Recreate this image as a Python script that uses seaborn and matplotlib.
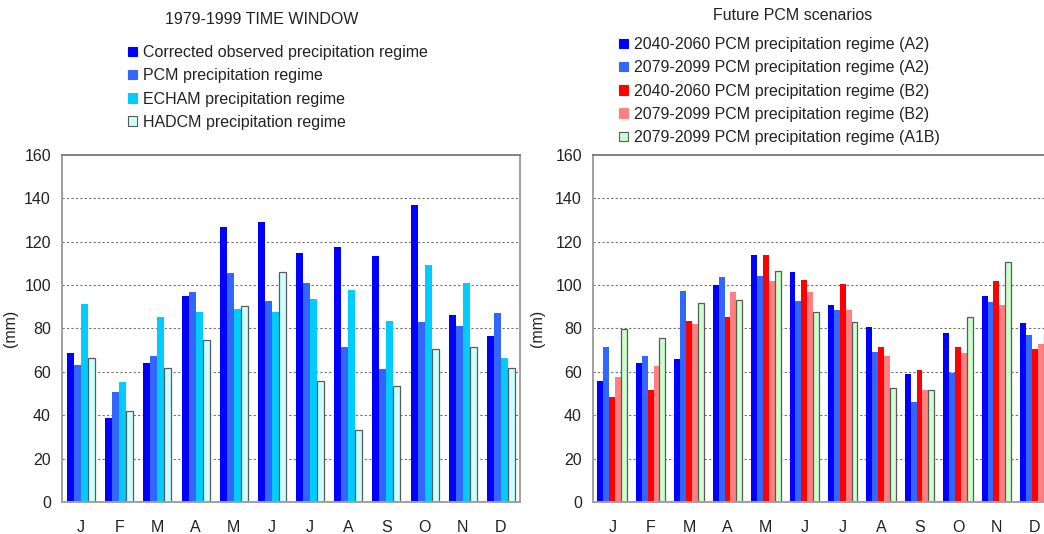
import matplotlib
matplotlib.use("Agg")
import matplotlib.pyplot as plt
from matplotlib.patches import Patch
from matplotlib.ticker import FixedLocator, MultipleLocator
import pandas as pd
import seaborn as sns

# Months and their axis letters
months = ["Jan", "Feb", "Mar", "Apr", "May", "Jun",
          "Jul", "Aug", "Sep", "Oct", "Nov", "Dec"]
month_letters = ["J", "F", "M", "A", "M", "J", "J", "A", "S", "O", "N", "D"]

# 1979-1999 monthly precipitation (mm)
observed = [68.6, 38.7, 64.0, 95.0, 127.0, 129.3, 115.0, 117.5, 113.5, 136.8, 86.0, 76.5]
pcm      = [63.0, 50.5, 67.4, 97.0, 105.4, 92.5, 101.2, 71.7, 61.3, 83.0, 81.0, 87.3]
echam    = [91.3, 55.4, 85.4, 87.5, 88.9, 87.5, 93.6, 97.6, 83.3, 109.2, 101.2, 66.3]
hadcm    = [66.3, 41.8, 61.7, 74.5, 90.5, 106.2, 55.7, 33.2, 53.3, 70.6, 71.4, 61.7]

# Future PCM scenarios (mm)
a2_2050  = [55.7, 64.0, 66.1, 99.9, 113.8, 106.0, 91.0, 80.7, 59.1, 78.1, 95.1, 82.5]
a2_2090  = [71.5, 67.2, 97.4, 103.9, 104.4, 92.8, 88.6, 69.0, 46.2, 59.5, 92.0, 77.2]
b2_2050  = [48.2, 51.6, 83.6, 85.2, 113.8, 102.5, 100.6, 71.3, 60.9, 71.3, 101.9, 70.6]
b2_2090  = [57.8, 62.9, 82.1, 96.6, 101.9, 96.8, 88.6, 67.3, 51.8, 68.5, 91.0, 73.0]
a1b_2090 = [79.8, 75.6, 91.6, 93.1, 106.4, 87.7, 83.1, 52.6, 51.8, 85.1, 110.6, 77.9]

left_labels = ["Corrected observed precipitation regime", "PCM precipitation regime",
               "ECHAM precipitation regime", "HADCM precipitation regime"]
left_colors = ["#0000FF", "#3366FF", "#00CCFF", "#CCFFFF"]
left_series = [observed, pcm, echam, hadcm]

right_labels = ["2040-2060 PCM precipitation regime (A2)",
                "2079-2099 PCM precipitation regime (A2)",
                "2040-2060 PCM precipitation regime (B2)",
                "2079-2099 PCM precipitation regime (B2)",
                "2079-2099 PCM precipitation regime (A1B)"]
right_colors = ["#0000FF", "#3366FF", "#FF0000", "#FF8080", "#CCFFCC"]
right_series = [a2_2050, a2_2090, b2_2050, b2_2090, a1b_2090]

# series drawn with a dark outline (the pale ones)
outlined = {"#CCFFFF", "#CCFFCC"}

sns.set_style("white")
plt.rcParams["font.family"] = ["Liberation Sans", "DejaVu Sans"]

AXIS_GREY = "#a0a0a0"
TOP_GREY = "#6e6e6e"
GRID_GREY = "#707070"
TEXT = "#222222"
FS = 11.5


def long_frame(labels, series):
    rows = []
    for lab, vals in zip(labels, series):
        for m, v in zip(months, vals):
            rows.append({"month": m, "mm": v, "series": lab})
    return pd.DataFrame(rows)


def draw_panel(ax, labels, colors, series, width, ylabel_x):
    df = long_frame(labels, series)
    sns.barplot(data=df, x="month", y="mm", hue="series", order=months,
                hue_order=labels, palette=colors, width=width, ax=ax,
                saturation=1, legend=False, linewidth=0, errorbar=None)
    for cont, col in zip(ax.containers, colors):
        for bar in cont:
            if col in outlined:
                bar.set_edgecolor("#5a5a5a")
                bar.set_linewidth(0.9)
            else:
                bar.set_linewidth(0)
    ax.set_xlim(-0.5, 11.5)
    ax.set_ylim(0, 160)
    ax.yaxis.set_major_locator(MultipleLocator(20))
    ax.set_yticklabels([f"{int(t)}" for t in ax.get_yticks()])
    for y in range(20, 160, 20):
        ax.axhline(y, color=GRID_GREY, lw=0.8, ls=(0, (2, 2)), zorder=0.5)
    ax.set_xticks(range(12))
    ax.set_xticklabels(month_letters)
    ax.xaxis.set_minor_locator(FixedLocator([i - 0.5 for i in range(13)]))
    ax.tick_params(axis="x", which="major", length=0, pad=13, labelsize=FS, colors=TEXT)
    ax.tick_params(axis="x", which="minor", length=5, width=1, color=AXIS_GREY, direction="out")
    ax.tick_params(axis="y", which="major", length=5, width=1, color=AXIS_GREY,
                   direction="out", labelsize=FS, labelcolor=TEXT, pad=3)
    for side in ("left", "bottom", "right"):
        ax.spines[side].set_color(AXIS_GREY)
        ax.spines[side].set_linewidth(1.4)
    ax.spines["top"].set_color(TOP_GREY)
    ax.spines["top"].set_linewidth(1.2)
    ax.set_xlabel("")
    ax.set_ylabel("(mm)", fontsize=FS, color=TEXT)
    ax.yaxis.set_label_coords(ylabel_x, 0.5)


fig = plt.figure(figsize=(10.44, 5.34), dpi=100)
ax1 = fig.add_axes([62 / 1044, 32 / 534, 458 / 1044, 347 / 534])
ax2 = fig.add_axes([593 / 1044, 32 / 534, 461 / 1044, 347 / 534])

draw_panel(ax1, left_labels, left_colors, left_series, 0.73, (18 - 62) / 458)
draw_panel(ax2, right_labels, right_colors, right_series, 0.77, (545 - 593) / 461)

fig.text(262 / 1044, 1 - 19 / 534, "1979-1999 TIME WINDOW", ha="center", va="center",
         fontsize=FS, color=TEXT)
fig.text(793 / 1044, 1 - 15 / 534, "Future PCM scenarios", ha="center", va="center",
         fontsize=FS, color=TEXT)


def make_handles(colors):
    return [Patch(facecolor=c, edgecolor="#5a5a5a" if c in outlined else c, linewidth=0.8)
            for c in colors]


leg_kw = dict(frameon=False, handlelength=0.55, handleheight=0.55, handletextpad=0.4,
              labelspacing=0.52, fontsize=FS, borderaxespad=0, borderpad=0,
              labelcolor=TEXT)
fig.legend(make_handles(left_colors), left_labels, loc="upper left",
           bbox_to_anchor=(128 / 1044, 1 - 45 / 534), **leg_kw)
fig.legend(make_handles(right_colors), right_labels, loc="upper left",
           bbox_to_anchor=(619 / 1044, 1 - 37 / 534), **leg_kw)

fig.savefig("out.png", dpi=100)
